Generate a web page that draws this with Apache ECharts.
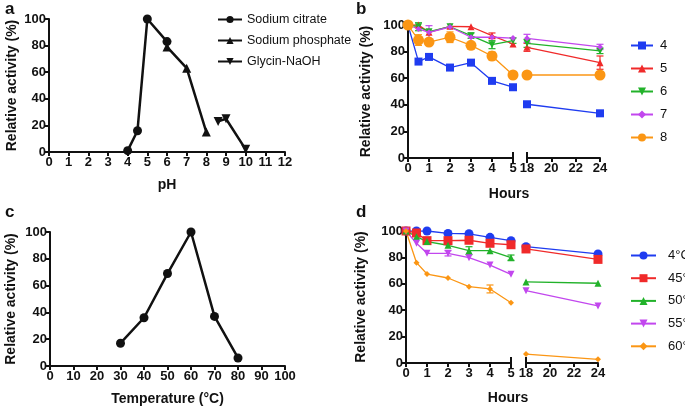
<!DOCTYPE html>
<html>
<head>
<meta charset="utf-8">
<script src="https://cdn.jsdelivr.net/npm/echarts@6/dist/echarts.min.js"></script>
<style>
  html, body { margin: 0; padding: 0; background: #fff; }
  #chart { width: 685px; height: 407px; }
</style>
</head>
<body>
<div id="chart"></div>
<script>
// panel a: pH
const phCitrate = [[4, 1], [4.5, 16], [5, 100], [6, 83]];
const phPhosphate = [[6, 79], [7, 63], [8, 15]];
const phGlycin = [[8.6, 23], [9, 25], [10, 2]];

// panel c: temperature
const tempX = [30, 40, 50, 60, 70, 80];
const tempY = [17, 36, 69, 100, 37, 6];

// panels b and d share the hours
const hoursEarly = [0, 0.5, 1, 2, 3, 4, 5];
const hoursLate = [18, 24];

// panel b: stability at pH
const bNames = ['4', '5', '6', '7', '8'];
const bEarly = [
  [100, 72.5, 76, 68, 71.7, 58, 53.2],
  [100, 100, 94.5, 99, 98.7, 92, 85.7],
  [100, 98.7, 95, 98.7, 92, 85.2, 88.2],
  [100, 97, 94.5, 98.5, 90.8, 90.8, 90.2],
  [100, 88.7, 87.2, 90.8, 84.7, 76.7, 62.4]
];
const bLate = [
  [40.4, 33.6],
  [83.2, 71.7],
  [86.2, 80.5],
  [90, 83.5],
  [62.4, 62.4]
];
const bErrEarly = [
  [0, 0, 0, 0, 0, 0, 0],
  [0, 0, 0, 0, 0, 2, 0],
  [0, 3, 0, 0, 2, 3, 2],
  [0, 0, 5, 0, 0, 0, 0],
  [0, 4, 0, 4, 0, 3, 0]
];
const bErrLate = [
  [0, 0],
  [3, 5],
  [3, 2],
  [3, 2],
  [0, 0]
];

// panel d: stability at temperature
const dNames = ['4°C', '45°C', '50°C', '55°C', '60°C'];
const dEarly = [
  [100, 100, 100, 98.2, 97.9, 95.2, 92.7],
  [100, 98.5, 92.7, 92.7, 93, 90.7, 89.6],
  [100, 95.7, 92, 89.2, 85.1, 85.1, 79.8],
  [100, 90.7, 83.1, 83.1, 79.8, 74.2, 67.2],
  [100, 76, 67.4, 64.4, 57.8, 56.1, 45.7]
];
const dLate = [
  [88.1, 82.6],
  [86.4, 78.5],
  [61.4, 60.4],
  [54.8, 43.2],
  [6.8, 2.8]
];
const dErrEarly = [
  [0, 0, 0, 0, 0, 0, 0],
  [0, 0, 0, 0, 0, 0, 0],
  [0, 0, 0, 0, 3, 0, 2],
  [0, 0, 0, 2, 0, 0, 0],
  [0, 0, 0, 0, 0, 3, 0]
];
const dErrLate = [
  [0, 0],
  [0, 0],
  [0, 0],
  [0, 0],
  [0, 0]
];

const bColors = ['#1f3cf0', '#f02a2a', '#22b22a', '#c247ee', '#fb9614'];
const bSymbols = ['rect', 'triangle', 'path://M0,0 L10,0 L5,10 Z', 'diamond', 'circle'];
const bSizes = [8, 7, 7, 6, 11];
const dColors = ['#1f3cf0', '#f02a2a', '#22b22a', '#c247ee', '#fb9614'];
const dSymbols = ['circle', 'rect', 'triangle', 'path://M0,0 L10,0 L5,10 Z', 'diamond'];
const dSizes = [9, 9, 7, 7, 6];

const FONT = '"Liberation Sans", Arial, sans-serif';
const black = '#111';

function pairs(xs, ys) { return xs.map((x, i) => [x, ys[i]]); }
function errData(xs, ys, es) {
  const out = [];
  xs.forEach((x, i) => { if (es[i] > 0) out.push([x, ys[i] - es[i], ys[i] + es[i]]); });
  return out;
}

function yAxis(gi, show, gap) {
  return {
    type: 'value', gridIndex: gi, min: 0, max: 100, interval: 20,
    show: show,
    name: show ? 'Relative activity (%)' : '',
    nameLocation: 'middle', nameGap: gap || 30,
    nameTextStyle: { fontFamily: FONT, fontWeight: 'bold', fontSize: 14, color: black },
    axisLine: { show: true, lineStyle: { color: black, width: 2 } },
    axisTick: { show: true, length: 4, lineStyle: { color: black, width: 2 } },
    axisLabel: { fontFamily: FONT, fontWeight: 'bold', fontSize: 13, color: black, margin: 3 },
    splitLine: { show: false }
  };
}
function xAxis(gi, min, max, interval, name) {
  return {
    type: 'value', gridIndex: gi, min: min, max: max, interval: interval,
    name: name || '', nameLocation: 'middle', nameGap: 26,
    nameTextStyle: { fontFamily: FONT, fontWeight: 'bold', fontSize: 14, color: black },
    axisLine: { onZero: false, lineStyle: { color: black, width: 2 } },
    axisTick: { length: 4, lineStyle: { color: black, width: 2 } },
    axisLabel: { fontFamily: FONT, fontWeight: 'bold', fontSize: 13, color: black, margin: 4 },
    splitLine: { show: false }
  };
}

function errSeries(xi, yi, data, color) {
  return {
    type: 'custom', xAxisIndex: xi, yAxisIndex: yi, data: data, z: 1, silent: true,
    renderItem: function (params, api) {
      const x = api.value(0);
      const p1 = api.coord([x, api.value(1)]);
      const p2 = api.coord([x, api.value(2)]);
      const st = { stroke: color, lineWidth: 1.2 };
      return { type: 'group', children: [
        { type: 'line', shape: { x1: p1[0], y1: p1[1], x2: p2[0], y2: p2[1] }, style: st },
        { type: 'line', shape: { x1: p1[0] - 3.5, y1: p1[1], x2: p1[0] + 3.5, y2: p1[1] }, style: st },
        { type: 'line', shape: { x1: p2[0] - 3.5, y1: p2[1], x2: p2[0] + 3.5, y2: p2[1] }, style: st }
      ] };
    }
  };
}
function breakSeries(xi, yi, xv) {
  return {
    type: 'custom', xAxisIndex: xi, yAxisIndex: yi, data: [[xv, 0]], clip: false, silent: true,
    renderItem: function (params, api) {
      const p = api.coord([api.value(0), 0]);
      return { type: 'line', shape: { x1: p[0], y1: p[1] - 6, x2: p[0], y2: p[1] + 5 },
        style: { stroke: black, lineWidth: 2 } };
    }
  };
}

const series = [];
// panel a
series.push({ name: 'Sodium citrate', type: 'line', xAxisIndex: 0, yAxisIndex: 0, data: phCitrate,
  symbol: 'circle', symbolSize: 9, itemStyle: { color: black }, lineStyle: { color: black, width: 2.5 } });
series.push({ name: 'Sodium phosphate', type: 'line', xAxisIndex: 0, yAxisIndex: 0, data: phPhosphate,
  symbol: 'triangle', symbolSize: 9, itemStyle: { color: black }, lineStyle: { color: black, width: 2.5 } });
series.push({ name: 'Glycin-NaOH', type: 'line', xAxisIndex: 0, yAxisIndex: 0, data: phGlycin,
  symbol: 'path://M0,0 L10,0 L5,10 Z', symbolSize: 9, itemStyle: { color: black }, lineStyle: { color: black, width: 2.5 } });
// panel c
series.push({ name: 'temp', type: 'line', xAxisIndex: 3, yAxisIndex: 3, data: pairs(tempX, tempY),
  symbol: 'circle', symbolSize: 9, itemStyle: { color: black }, lineStyle: { color: black, width: 2.5 } });

function addPanel(names, early, late, errE, errL, colors, symbols, sizes, xiE, xiL) {
  names.forEach((n, k) => {
    const common = { name: n, type: 'line', symbol: symbols[k], symbolSize: sizes[k],
      itemStyle: { color: colors[k] }, lineStyle: { color: colors[k], width: 1.3 }, z: 3 };
    series.push(Object.assign({}, common, { xAxisIndex: xiE, yAxisIndex: xiE, data: pairs(hoursEarly, early[k]) }));
    series.push(Object.assign({}, common, { xAxisIndex: xiL, yAxisIndex: xiL, data: pairs(hoursLate, late[k]) }));
    series.push(errSeries(xiE, xiE, errData(hoursEarly, early[k], errE[k]), colors[k]));
    series.push(errSeries(xiL, xiL, errData(hoursLate, late[k], errL[k]), colors[k]));
  });
  series.push(breakSeries(xiE, xiE, 5));
  series.push(breakSeries(xiL, xiL, 18));
}
addPanel(bNames, bEarly, bLate, bErrEarly, bErrLate, bColors, bSymbols, bSizes, 1, 2);
addPanel(dNames, dEarly, dLate, dErrEarly, dErrLate, dColors, dSymbols, dSizes, 4, 5);

const panelLabel = (t, l, tp) => ({ text: t, left: l, top: tp,
  textStyle: { fontFamily: FONT, fontWeight: 'bold', fontSize: 17, color: black } });
const hoursTitle = (l, tp) => ({ text: 'Hours', left: l, top: tp, textAlign: 'center',
  textStyle: { fontFamily: FONT, fontWeight: 'bold', fontSize: 14, color: black } });

const legendText = { fontFamily: FONT, fontSize: 12.5, color: black };

const option = {
  animation: false,
  backgroundColor: '#fff',
  title: [
    panelLabel('a', 0, -4), panelLabel('b', 351, -4),
    panelLabel('c', 0, 199), panelLabel('d', 351, 199),
    hoursTitle(504, 182), hoursTitle(503, 386)
  ],
  legend: [
    { data: ['Sodium citrate', 'Sodium phosphate', 'Glycin-NaOH'], orient: 'vertical', left: 217, top: 13,
      padding: 0, itemWidth: 24, itemHeight: 9, itemGap: 8, textStyle: legendText },
    { data: bNames, orient: 'vertical', left: 630, top: 39, padding: 0, itemWidth: 22, itemHeight: 10, itemGap: 10,
      textStyle: Object.assign({}, legendText, { fontSize: 13, padding: [0, 0, 0, 2] }) },
    { data: dNames, orient: 'vertical', left: 630, top: 249, padding: 0, itemWidth: 25, itemHeight: 10, itemGap: 9.7,
      textStyle: Object.assign({}, legendText, { fontSize: 13, padding: [0, 0, 0, 7] }) }
  ],
  grid: [
    { left: 49, top: 19, width: 236, height: 133 },
    { left: 408, top: 25, width: 105, height: 133 },
    { left: 527, top: 25, width: 73, height: 133 },
    { left: 50, top: 232, width: 235, height: 134 },
    { left: 406, top: 231, width: 105, height: 132 },
    { left: 526, top: 231, width: 72, height: 132 }
  ],
  xAxis: [
    xAxis(0, 0, 12, 1, 'pH'),
    xAxis(1, 0, 5, 1),
    xAxis(2, 18, 24, 2),
    xAxis(3, 0, 100, 10, 'Temperature (°C)'),
    xAxis(4, 0, 5, 1),
    xAxis(5, 18, 24, 2)
  ],
  yAxis: [yAxis(0, true, 30), yAxis(1, true, 35), yAxis(2, false), yAxis(3, true, 32), yAxis(4, true, 38), yAxis(5, false)],
  series: series
};

const chart = echarts.init(document.getElementById('chart'));
chart.setOption(option);
</script>
</body>
</html>
